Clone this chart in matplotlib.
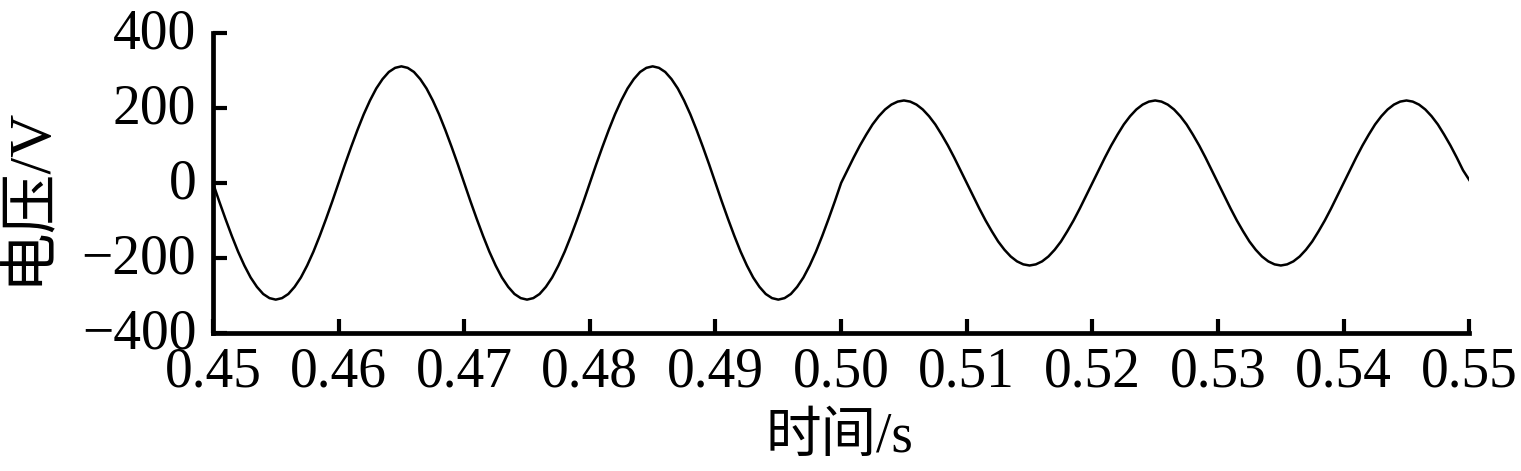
import numpy as np
import matplotlib
matplotlib.use("Agg")
import matplotlib.pyplot as plt
import matplotlib.transforms as mtransforms

voltage = [
    0, -49, -96, -141, -183, -220, -252, -277, -296, -307, -311, -307, -296, -277, -252, -220, -183, -141, -96, -49,
    0, 49, 96, 141, 183, 220, 252, 277, 296, 307, 311, 307, 296, 277, 252, 220, 183, 141, 96, 49,
    0, -49, -96, -141, -183, -220, -252, -277, -296, -307, -311, -307, -296, -277, -252, -220, -183, -141, -96, -49,
    0, 49, 96, 141, 183, 220, 252, 277, 296, 307, 311, 307, 296, 277, 252, 220, 183, 141, 96, 49,
    0, -49, -96, -141, -183, -220, -252, -277, -296, -307, -311, -307, -296, -277, -252, -220, -183, -141, -96, -49,
    0, 34, 68, 100, 129, 156, 178, 196, 209, 217, 220, 217, 209, 196, 178, 156, 129, 100, 68, 34,
    0, -34, -68, -100, -129, -156, -178, -196, -209, -217, -220, -217, -209, -196, -178, -156, -129, -100, -68, -34,
    0, 34, 68, 100, 129, 156, 178, 196, 209, 217, 220, 217, 209, 196, 178, 156, 129, 100, 68, 34,
    0, -34, -68, -100, -129, -156, -178, -196, -209, -217, -220, -217, -209, -196, -178, -156, -129, -100, -68, -34,
    0, 34, 68, 100, 129, 156, 178, 196, 209, 217, 220, 217, 209, 196, 178, 156, 129, 100, 68, 34,
    8,
]
t_start, t_end = 0.45, 0.55
time = np.linspace(t_start, t_end, len(voltage))

x_ticks = [0.45, 0.46, 0.47, 0.48, 0.49, 0.50, 0.51, 0.52, 0.53, 0.54, 0.55]
x_tick_labels = ["0.45", "0.46", "0.47", "0.48", "0.49", "0.50", "0.51", "0.52", "0.53", "0.54", "0.55"]
y_ticks = [-400, -200, 0, 200, 400]
y_tick_labels = ["\u2212400", "\u2212200", "0", "200", "400"]
x_label = "时间/s"
y_label = "电压/V"

plt.rcParams['font.family'] = ['Liberation Serif', 'Noto Sans CJK SC']

fig = plt.figure(figsize=(15.21, 4.71), dpi=100)
ax = fig.add_axes([0.140, 0.293, 0.826, 0.637])
ax.plot(time, voltage, color="black", linewidth=1.8)

ax.set_xlim(t_start, t_end)
ax.set_ylim(-400, 400)
ax.set_xticks(x_ticks)
ax.set_xticklabels(x_tick_labels)
ax.set_yticks(y_ticks)
ax.set_yticklabels(y_tick_labels)

for s in ["top", "right"]:
    ax.spines[s].set_visible(False)
for s in ["left", "bottom"]:
    ax.spines[s].set_linewidth(3.4)

ax.tick_params(direction="in", length=10, width=3.0, labelsize=40, pad=12)
ax.tick_params(axis="x", pad=10)

# nudge y tick labels slightly upward, as in the reference
offset = mtransforms.ScaledTranslation(0, 4 / 100, fig.dpi_scale_trans)
for lab in ax.get_yticklabels():
    lab.set_transform(lab.get_transform() + offset)

ax.set_xlabel(x_label, fontsize=40)
ax.xaxis.label.set_va("center")
ax.xaxis.set_label_coords(0.499, -0.35)

ax.set_ylabel(y_label, fontsize=43)
ax.yaxis.label.set_va("center")
ax.yaxis.set_label_coords(-0.146, 0.46)

fig.savefig("out.png", dpi=100)
